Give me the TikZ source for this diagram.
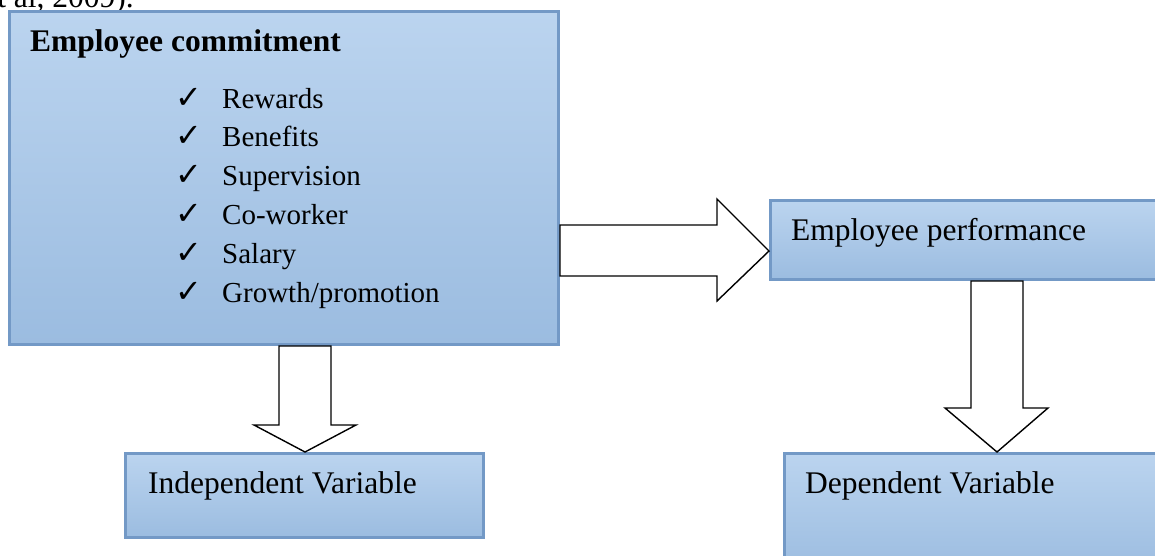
\documentclass[tikz,border=0pt]{standalone}
\usepackage{fontspec}
\setmainfont{Liberation Serif}
\newfontfamily\symfont{DejaVu Sans}
\usetikzlibrary{calc}
\definecolor{boxtop}{HTML}{BBD4EF}
\definecolor{boxbot}{HTML}{9BBCE0}
\definecolor{boxline}{HTML}{7399C6}
\tikzset{
  box/.style={rectangle, draw=boxline, line width=3pt, top color=boxtop, bottom color=boxbot, anchor=north west, inner sep=0pt},
  blk/.style={draw=black, line width=1.4pt, fill=white, line join=miter},
  big/.style={font=\fontsize{31.5}{36}\selectfont, anchor=base west, inner sep=0pt},
  lst/.style={font=\fontsize{29}{34}\selectfont, anchor=base west, inner sep=0pt},
  chk/.style={font=\symfont\fontsize{32}{36}\selectfont, anchor=base west, inner sep=0pt},
}
\begin{document}
\begin{tikzpicture}[x=1pt,y=-1pt]
\useasboundingbox (0,0) rectangle (1155,555);
\clip (0,0) rectangle (1155,555);
\fill[white] (0,0) rectangle (1155,555);
% cut-off text above
\node[big, anchor=base east] (cite) at (134,7) {et al, 2009).};
% boxes
\node[box, minimum width=549pt, minimum height=333pt] (ec) at (8,10) {};
\node[box, minimum width=401pt, minimum height=79pt] (ep) at (769,199) {};
\node[box, minimum width=358pt, minimum height=84pt] (iv) at (124,452) {};
\node[box, minimum width=390pt, minimum height=120pt] (dv) at (783,452) {};
% texts
\node[big, font=\fontsize{31.5}{36}\selectfont\bfseries] (ect) at (30,51) {Employee commitment};
\foreach \t [count=\i] in {Rewards,Benefits,Supervision,Co-worker,Salary,Growth/promotion}{
  \node[chk] (c\i) at (175,{108+38.8*(\i-1)}) {✓};
  \node[lst] (l\i) at (222,{108+38.8*(\i-1)}) {\t};
}
\node[big] (ept) at (791,240) {Employee performance};
\node[big] (ivt) at (148,493) {Independent Variable};
\node[big] (dvt) at (805,493) {Dependent Variable};
% block arrows
\draw[blk] (ec.east |- 0,225) -- (717,225) -- (717,199) -- (ep.west |- 0,251)
  -- (717,301) -- (717,276) -- (ec.east |- 0,276) -- cycle;
\draw[blk] (279,0 |- ec.south) -- (279,425) -- (254,425) -- (305,0 |- iv.north)
  -- (356,425) -- (331,425) -- (331,0 |- ec.south) -- cycle;
\draw[blk] (971,0 |- ep.south) -- (971,408) -- (945,408) -- (997,0 |- dv.north)
  -- (1048,408) -- (1023,408) -- (1023,0 |- ep.south) -- cycle;
\end{tikzpicture}
\end{document}
